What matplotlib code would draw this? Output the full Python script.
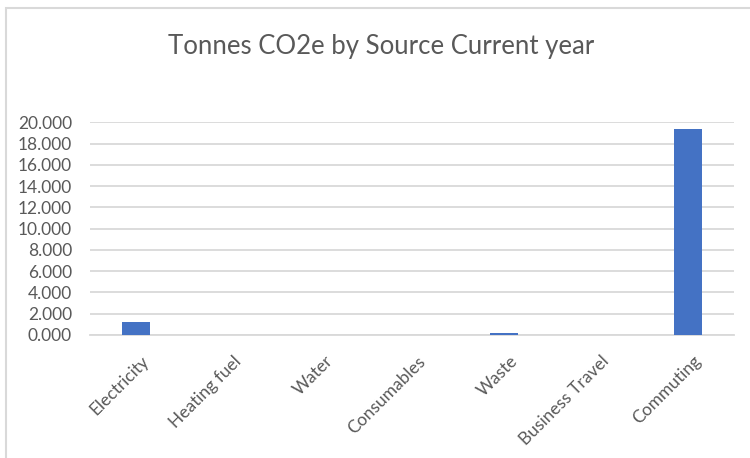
import matplotlib.pyplot as plt
from matplotlib.patches import Rectangle
from matplotlib.transforms import ScaledTranslation
import numpy as np

# ---- data ----
categories = ['Electricity', 'Heating fuel', 'Water', 'Consumables',
              'Waste', 'Business Travel', 'Commuting']
tonnes     = [1.2, 0.0, 0.0, 0.0, 0.15, 0.0, 19.35]
y_ticks    = np.arange(0, 21, 2)

# ---- style ----
BAR_C, GRID_C, TEXT_C = '#4472c4', '#d9d9d9', '#595959'
plt.rcParams['font.family'] = ['Lato', 'DejaVu Sans']

fig = plt.figure(figsize=(7.5, 4.58), dpi=100)
ax = fig.add_axes([0.12, 0.2686, 0.859, 0.4643])

x = np.arange(len(categories))
ax.bar(x, tonnes, width=0.31, color=BAR_C, zorder=3)

ax.set_xlim(-0.5, len(categories) - 0.5)
ax.set_ylim(0, 20)
ax.set_yticks(y_ticks)
ax.set_yticklabels([f"{v:.3f}" for v in y_ticks], color=TEXT_C, fontsize=12.5)
ax.set_xticks(x)
ax.set_xticklabels(categories, rotation=45, ha='right', rotation_mode='anchor',
                   color=TEXT_C, fontsize=12.5)
ax.tick_params(axis='y', length=0, pad=13)
ax.tick_params(axis='x', length=0, pad=13)
# nudge rotated labels a little right, like Excel does
shift = ScaledTranslation(5 / 100, 0, fig.dpi_scale_trans)
for lbl in ax.get_xticklabels():
    lbl.set_transform(lbl.get_transform() + shift)

ax.grid(axis='y', color=GRID_C, linewidth=1.3, zorder=0)
for side in ['top', 'right', 'left']:
    ax.spines[side].set_visible(False)
ax.spines['bottom'].set_color(GRID_C)
ax.spines['bottom'].set_linewidth(1.3)

fig.text(0.508, 0.898, "Tonnes CO2e by Source Current year",
         ha='center', va='center', fontsize=18.5, color=TEXT_C)

# chart frame
fig.patches.append(Rectangle((6 / 750, -0.1), 1.2, 1.1 - 8 / 458,
                             transform=fig.transFigure, fill=False,
                             edgecolor=GRID_C, linewidth=1.5))

fig.savefig("out.png", dpi=100)
